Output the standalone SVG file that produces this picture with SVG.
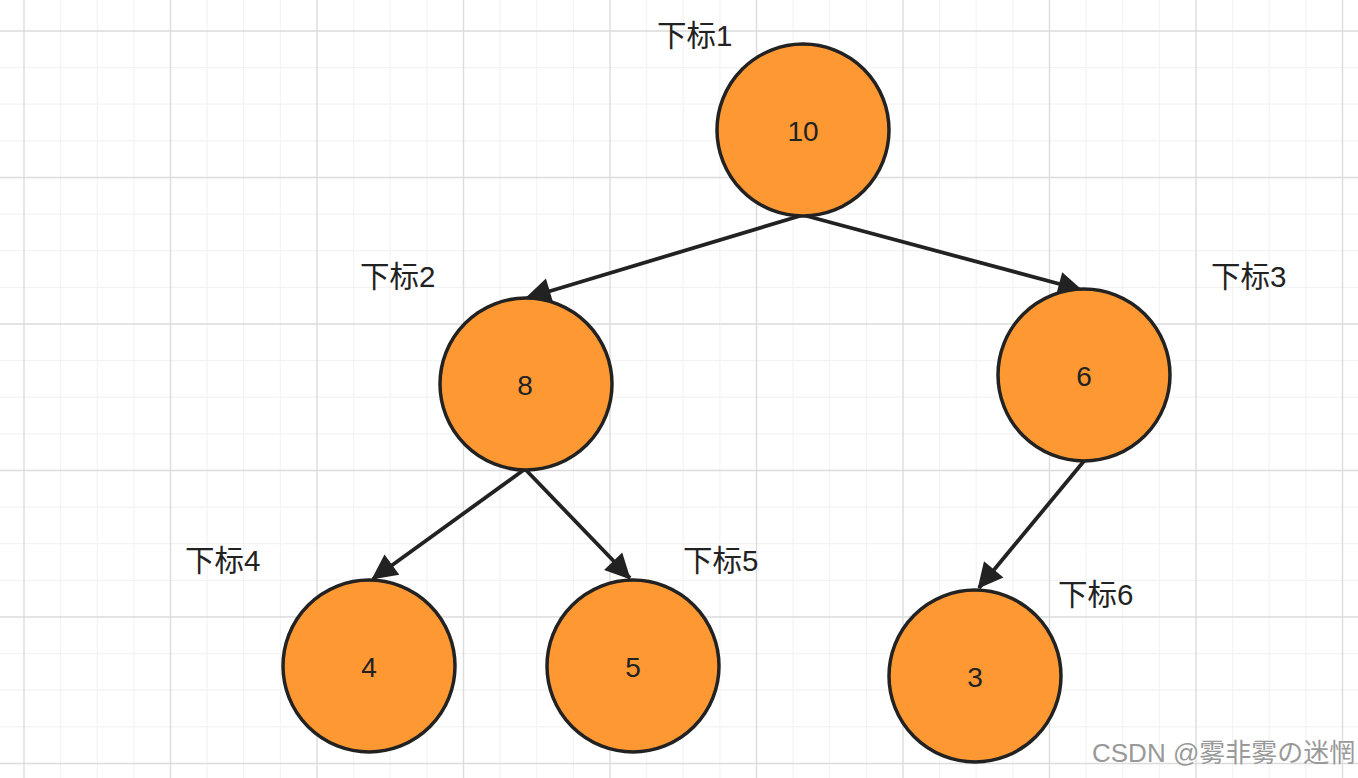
<svg xmlns="http://www.w3.org/2000/svg" width="1358" height="778" viewBox="0 0 1358 778">
<defs>
<marker id="ah" viewBox="0 0 10 10" refX="9" refY="5" markerWidth="9" markerHeight="9" markerUnits="userSpaceOnUse" orient="auto" overflow="visible">
<path d="M0,0 L10,5 L0,10 z" fill="#222" transform="scale(2.8) translate(-6.2,-3)"/>
</marker>
<style>
.minor{stroke:#f3f3f3;stroke-width:1.2}
.major{stroke:#dcdcdc;stroke-width:1.4}
.node circle{fill:#fd9833;stroke:#222;stroke-width:3.5}
.num{font-family:"Liberation Sans",Arial,sans-serif;font-size:28px;fill:#222;text-anchor:middle;dominant-baseline:central}
.lbl{font-family:"Liberation Sans","Noto Sans CJK SC",sans-serif;font-size:29.5px;fill:#222}
.edge{stroke:#222;stroke-width:3.8;fill:none}
.wm{font-family:"Liberation Sans","Noto Sans CJK SC",sans-serif;font-size:26px;fill:#999;stroke:#fff;stroke-width:0.6;paint-order:stroke}
</style>
</defs>
<rect width="1358" height="778" fill="#fff"/>
<g id="grid">
<g class="minor">
<path d="M60.6 0V778M97.2 0V778M133.9 0V778M207.1 0V778M243.7 0V778M280.4 0V778M353.6 0V778M390.2 0V778M426.9 0V778M500.1 0V778M536.7 0V778M573.4 0V778M646.6 0V778M683.2 0V778M719.9 0V778M793.1 0V778M829.7 0V778M866.4 0V778M939.6 0V778M976.2 0V778M1012.9 0V778M1086.1 0V778M1122.7 0V778M1159.4 0V778M1232.6 0V778M1269.2 0V778M1305.9 0V778"/>
<path d="M0 67.6H1358M0 104.2H1358M0 140.9H1358M0 214.1H1358M0 250.7H1358M0 287.4H1358M0 360.6H1358M0 397.2H1358M0 433.9H1358M0 507.1H1358M0 543.7H1358M0 580.4H1358M0 653.6H1358M0 690.2H1358M0 726.9H1358"/>
</g>
<g class="major">
<path d="M24 0V778M170.5 0V778M317 0V778M463.5 0V778M610 0V778M756.5 0V778M903 0V778M1049.5 0V778M1196 0V778M1342.5 0V778"/>
<path d="M0 31H1358M0 177.5H1358M0 324H1358M0 470.5H1358M0 617H1358M0 763.5H1358"/>
</g>
</g>
<g id="edges">
<line class="edge" x1="803" y1="215" x2="527" y2="298" marker-end="url(#ah)"/>
<line class="edge" x1="803" y1="215" x2="1082" y2="290" marker-end="url(#ah)"/>
<line class="edge" x1="525" y1="469" x2="373" y2="579" marker-end="url(#ah)"/>
<line class="edge" x1="525" y1="469" x2="630" y2="578" marker-end="url(#ah)"/>
<line class="edge" x1="1084" y1="461" x2="979" y2="588" marker-end="url(#ah)"/>
</g>
<g id="n1" class="node"><circle cx="803" cy="130" r="86"/><text class="num" x="803" y="131">10</text></g>
<g id="n2" class="node"><circle cx="526" cy="384" r="86"/><text class="num" x="525" y="385">8</text></g>
<g id="n3" class="node"><circle cx="1084" cy="375" r="86"/><text class="num" x="1084" y="376">6</text></g>
<g id="n4" class="node"><circle cx="369" cy="666" r="86"/><text class="num" x="369" y="667">4</text></g>
<g id="n5" class="node"><circle cx="633" cy="666" r="86"/><text class="num" x="633" y="667">5</text></g>
<g id="n6" class="node"><circle cx="975" cy="676" r="86"/><text class="num" x="975" y="677">3</text></g>
<g id="labels">
<text class="lbl" x="657" y="46">下标1</text>
<text class="lbl" x="360" y="287">下标2</text>
<text class="lbl" x="1211" y="287">下标3</text>
<text class="lbl" x="185" y="571">下标4</text>
<text class="lbl" x="683" y="571">下标5</text>
<text class="lbl" x="1058" y="605">下标6</text>
</g>
<text class="wm" x="1092" y="762">CSDN @雾非雾の迷惘</text>
</svg>
